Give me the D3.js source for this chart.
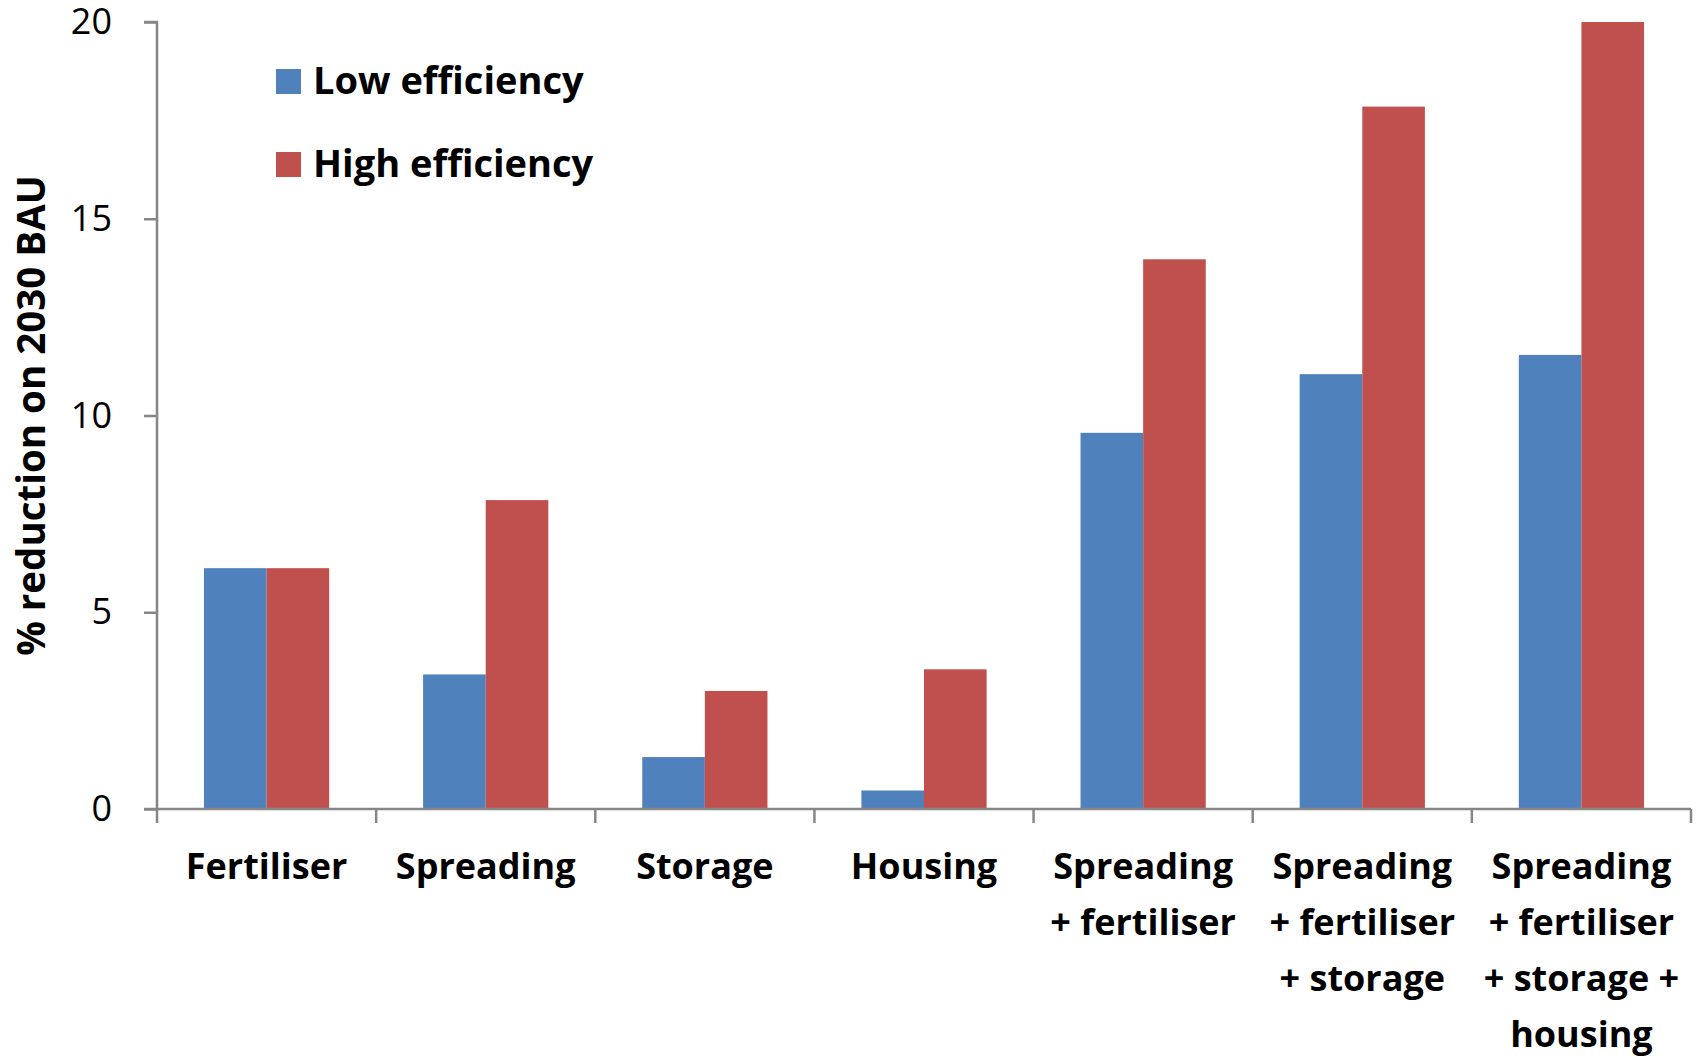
<!DOCTYPE html>
<html><head><meta charset="utf-8">
<script src="https://cdn.jsdelivr.net/npm/d3@7"></script>
<style>body{margin:0;background:#fff}svg{display:block}text{font-family:"Open Sans","Liberation Sans",sans-serif}</style>
</head><body><div id="chart"></div>
<script>
const categories = ["Fertiliser","Spreading","Storage","Housing","Spreading\n+ fertiliser","Spreading\n+ fertiliser\n+ storage","Spreading\n+ fertiliser\n+ storage +\nhousing"];
const seriesNames = ["Low efficiency","High efficiency"];
const lowEff = [6.12,3.42,1.32,0.47,9.56,11.05,11.54];
const highEff = [6.12,7.85,3.0,3.55,13.97,17.85,20.0];
const yTicks = [0,5,10,15,20];
const colors = ["#4F81BD","#C0504D"];

const W=1700,H=1059;
const m={left:157,right:9,top:22,bottom:250};
const svg=d3.select("#chart").append("svg").attr("width",W).attr("height",H);
const x=d3.scaleBand().domain(categories).range([m.left,W-m.right]).paddingInner(0).paddingOuter(0);
const y=d3.scaleLinear().domain([0,20]).range([H-m.bottom,m.top]);
const xs=d3.scaleBand().domain(seriesNames).range([0,x.bandwidth()]).paddingInner(0).paddingOuter(0.75);

const data=categories.map((c,i)=>({c,vals:[lowEff[i],highEff[i]]}));
const g=svg.append("g");
data.forEach(d=>{
  d.vals.forEach((v,j)=>{
    g.append("rect").attr("x",x(d.c)+xs(seriesNames[j])).attr("width",xs.bandwidth())
     .attr("y",y(v)).attr("height",y(0)-y(v)).attr("fill",colors[j]);
  });
});

// y axis
const ya=svg.append("g").attr("transform",`translate(${m.left},0)`)
  .call(d3.axisLeft(y).tickValues(yTicks).tickSize(13).tickPadding(32));
ya.select(".domain").attr("stroke","#868686").attr("stroke-width",2.5).attr("d",`M-13,${y(20)}H0V${y(0)}`);
ya.selectAll(".tick line").attr("stroke","#868686").attr("stroke-width",2.5);
ya.selectAll(".tick text").attr("font-size",36).attr("fill","#000").attr("font-family","Open Sans");

// x axis
const xa=svg.append("g").attr("transform",`translate(0,${y(0)})`)
  .call(d3.axisBottom(x).tickSize(0).tickFormat(""));
xa.select(".domain").attr("stroke","#868686").attr("stroke-width",2.5).attr("d",`M${m.left-13},0H${W-m.right}`);
const boundaries=categories.map(c=>x(c)).concat([x(categories[categories.length-1])+x.bandwidth()]);
xa.selectAll(".bound").data(boundaries).enter().append("line").attr("class","bound")
  .attr("x1",d=>d).attr("x2",d=>d).attr("y1",0).attr("y2",14).attr("stroke","#868686").attr("stroke-width",2.5);

// category labels
categories.forEach(c=>{
  const lines=c.split("\n");
  const t=svg.append("text").attr("text-anchor","middle").attr("font-size",36).attr("font-weight","bold").attr("fill","#000");
  lines.forEach((l,i)=>{
    t.append("tspan").attr("x",x(c)+x.bandwidth()/2).attr("y",y(0)+70+i*56).text(l);
  });
});

// y title
svg.append("text").attr("transform",`translate(45,${(y(0)+y(20))/2}) rotate(-90)`)
  .attr("text-anchor","middle").attr("font-size",38.5).attr("font-weight","bold").text("% reduction on 2030 BAU");

// legend
seriesNames.forEach((n,i)=>{
  const ly=69+i*83;
  svg.append("rect").attr("x",276).attr("y",ly).attr("width",25).attr("height",25).attr("fill",colors[i]);
  svg.append("text").attr("x",313).attr("y",ly+25).attr("font-size",38).attr("font-weight","bold").text(n);
});
</script></body></html>
